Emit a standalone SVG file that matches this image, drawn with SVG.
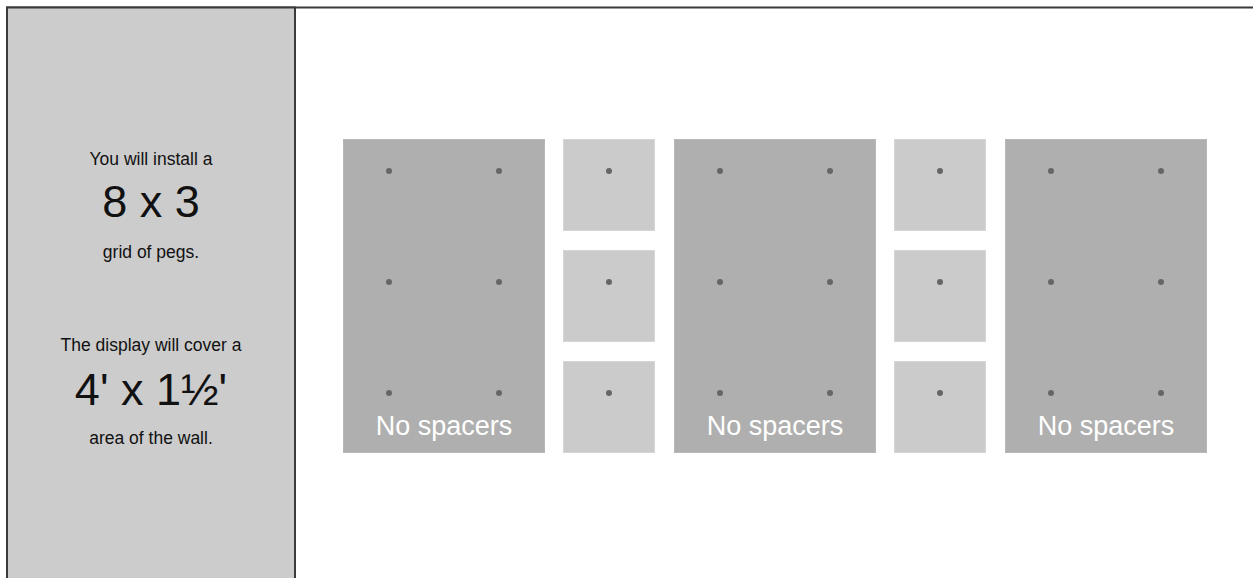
<svg xmlns="http://www.w3.org/2000/svg" width="1253" height="578" viewBox="0 0 1253 578">
<style>
.frame{fill:#ffffff;stroke:#3a3a3a;stroke-width:2}
.panel{fill:#cccccc;stroke:#3a3a3a;stroke-width:2}
.big{fill:#afafaf;stroke:#b8b8b8;stroke-width:1}
.small{fill:#cbcbcb;stroke:#d6d6d6;stroke-width:1}
.peg{fill:#666666}
.t{font-family:"Liberation Sans",Arial,sans-serif;fill:#111111;text-anchor:middle}
.s{font-size:17.5px}
.l{font-size:45px}
.lab{font-family:"Liberation Sans",Arial,sans-serif;font-size:27px;fill:#ffffff;text-anchor:middle}
</style>
<defs>
<g id="bigPanel">
<rect class="big" x="0.5" y="0.5" width="201" height="313"/>
<circle class="peg" cx="46" cy="32" r="3"/>
<circle class="peg" cx="156" cy="32" r="3"/>
<circle class="peg" cx="46" cy="143" r="3"/>
<circle class="peg" cx="156" cy="143" r="3"/>
<circle class="peg" cx="46" cy="254" r="3"/>
<circle class="peg" cx="156" cy="254" r="3"/>
<text class="lab" x="101" y="296">No spacers</text>
</g>
<g id="smallPanel">
<rect class="small" x="0.5" y="0.5" width="91" height="91"/>
<circle class="peg" cx="46" cy="32" r="3"/>
</g>
</defs>
<rect class="frame" x="7" y="7.5" width="1270" height="600"/>
<g id="info">
<rect class="panel" x="7" y="7.5" width="288" height="600"/>
<text class="t s" x="151" y="165">You will install a</text>
<text class="t l" x="151" y="217">8 x 3</text>
<text class="t s" x="151" y="258">grid of pegs.</text>
<text class="t s" x="151" y="351">The display will cover a</text>
<text class="t l" x="151" y="405">4' x 1½'</text>
<text class="t s" x="151" y="444">area of the wall.</text>
</g>
<g id="panel1"><use href="#bigPanel" x="343" y="139"/></g>
<g id="spacer1a"><use href="#smallPanel" x="563" y="139"/></g>
<g id="spacer1b"><use href="#smallPanel" x="563" y="250"/></g>
<g id="spacer1c"><use href="#smallPanel" x="563" y="361"/></g>
<g id="panel2"><use href="#bigPanel" x="674" y="139"/></g>
<g id="spacer2a"><use href="#smallPanel" x="894" y="139"/></g>
<g id="spacer2b"><use href="#smallPanel" x="894" y="250"/></g>
<g id="spacer2c"><use href="#smallPanel" x="894" y="361"/></g>
<g id="panel3"><use href="#bigPanel" x="1005" y="139"/></g>
<g id="connectors"/>
</svg>
